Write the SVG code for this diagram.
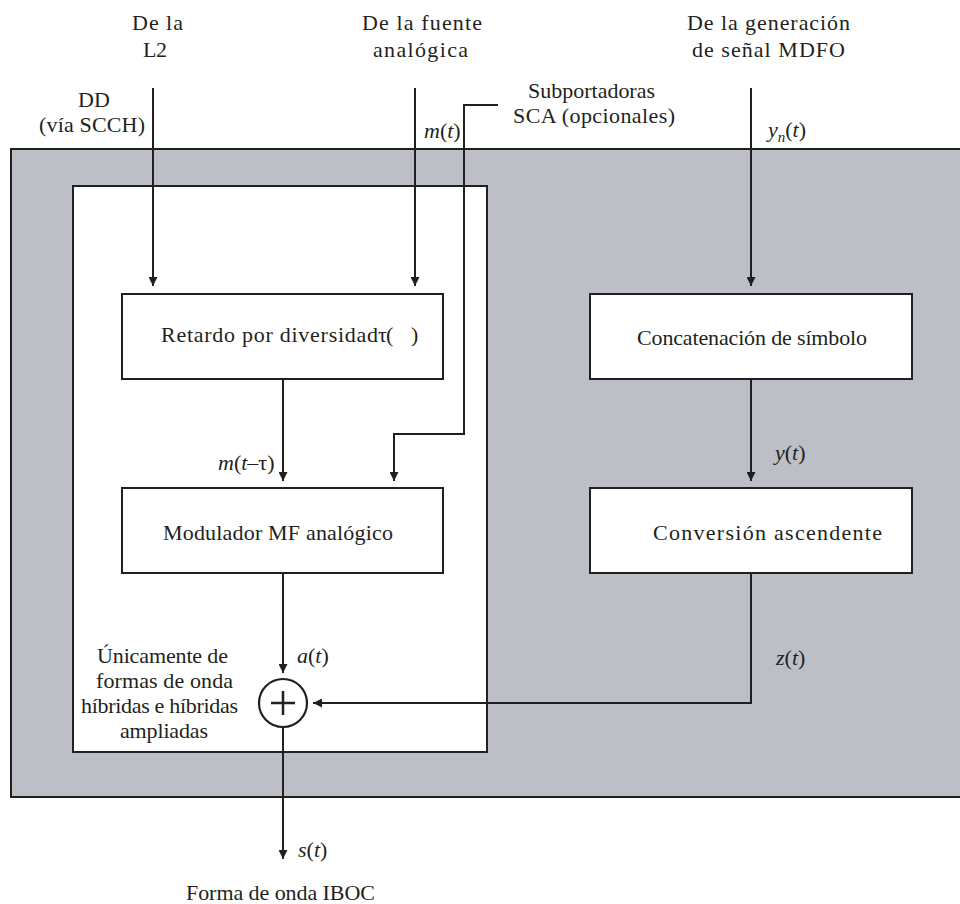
<svg xmlns="http://www.w3.org/2000/svg" width="960" height="904" viewBox="0 0 960 904">
<style>
.i{font-style:italic}
.box{fill:#ffffff;stroke:#231f20;stroke-width:2}
.ln{fill:none;stroke:#231f20;stroke-width:2}
</style>
<defs>
<marker id="ah" viewBox="0 0 10 10" refX="10" refY="5" markerWidth="9" markerHeight="9" markerUnits="userSpaceOnUse" orient="auto">
<path d="M0,0 L10,5 L0,10 z" fill="#231f20"/>
</marker>
</defs>
<rect width="960" height="904" fill="#ffffff"/>
<g id="outer">
<rect x="11" y="149" width="960" height="648" fill="#bdbfc6" stroke="#231f20" stroke-width="2"/>
</g>
<g id="inner">
<rect x="73" y="186" width="414" height="566" class="box"/>
</g>
<g id="connectors">
<line x1="153" y1="88" x2="153" y2="286" class="ln" marker-end="url(#ah)"/>
<line x1="415" y1="88" x2="415" y2="286" class="ln" marker-end="url(#ah)"/>
<line x1="751" y1="88" x2="751" y2="286" class="ln" marker-end="url(#ah)"/>
<path d="M498,105 H464 V434 H394 V481" class="ln" marker-end="url(#ah)"/>
<line x1="283" y1="379" x2="283" y2="481" class="ln" marker-end="url(#ah)"/>
<line x1="751" y1="379" x2="751" y2="481" class="ln" marker-end="url(#ah)"/>
<line x1="283" y1="573" x2="283" y2="673" class="ln" marker-end="url(#ah)"/>
<path d="M751,573 V703 H313" class="ln" marker-end="url(#ah)"/>
<line x1="283" y1="727" x2="283" y2="859" class="ln" marker-end="url(#ah)"/>
</g>
<g id="retardo">
<rect x="122" y="294" width="321" height="85" class="box"/>
<text font-family="Liberation Serif" font-size="22" fill="#231f20" x="161" y="342" textLength="217" lengthAdjust="spacing">Retardo por diversidad</text>
<text font-family="Liberation Serif" font-size="22" fill="#231f20" x="378" y="342">τ</text>
<text font-family="Liberation Serif" font-size="22" fill="#231f20" x="386" y="342">(</text>
<text font-family="Liberation Serif" font-size="22" fill="#231f20" x="411" y="342">)</text>
</g>
<g id="modulador">
<rect x="122" y="488" width="321" height="85" class="box"/>
<text font-family="Liberation Serif" font-size="22" fill="#231f20" x="163" y="540" textLength="230" lengthAdjust="spacing">Modulador MF analógico</text>
</g>
<g id="concatenacion">
<rect x="590" y="294" width="322" height="85" class="box"/>
<text font-family="Liberation Serif" font-size="22" fill="#231f20" x="637" y="345" textLength="230" lengthAdjust="spacing">Concatenación de símbolo</text>
</g>
<g id="conversion">
<rect x="590" y="488" width="322" height="85" class="box"/>
<text font-family="Liberation Serif" font-size="22" fill="#231f20" x="653" y="540" textLength="229" lengthAdjust="spacing">Conversión ascendente</text>
</g>
<g id="sumador">
<circle cx="283" cy="703" r="24" fill="#ffffff" stroke="#231f20" stroke-width="2.2"/>
<path d="M271,703 H295 M283,691 V715" stroke="#231f20" stroke-width="2.5" fill="none"/>
</g>
<g id="labels">
<text font-family="Liberation Serif" font-size="22" fill="#231f20" x="132" y="30" textLength="51" lengthAdjust="spacing">De la</text>
<text font-family="Liberation Serif" font-size="22" fill="#231f20" x="143" y="57" textLength="24" lengthAdjust="spacing">L2</text>
<text font-family="Liberation Serif" font-size="22" fill="#231f20" x="362" y="30" textLength="120" lengthAdjust="spacing">De la fuente</text>
<text font-family="Liberation Serif" font-size="22" fill="#231f20" x="373" y="57" textLength="95" lengthAdjust="spacing">analógica</text>
<text font-family="Liberation Serif" font-size="22" fill="#231f20" x="687" y="30" textLength="163" lengthAdjust="spacing">De la generación</text>
<text font-family="Liberation Serif" font-size="22" fill="#231f20" x="692" y="57" textLength="153" lengthAdjust="spacing">de señal MDFO</text>
<text font-family="Liberation Serif" font-size="22" fill="#231f20" x="78" y="107" textLength="32" lengthAdjust="spacing">DD</text>
<text font-family="Liberation Serif" font-size="22" fill="#231f20" x="39" y="132" textLength="106" lengthAdjust="spacing">(vía SCCH)</text>
<text font-family="Liberation Serif" font-size="22" fill="#231f20" x="424" y="138"><tspan class="i">m</tspan>(<tspan class="i">t</tspan>)</text>
<text font-family="Liberation Serif" font-size="22" fill="#231f20" x="528" y="98" textLength="127" lengthAdjust="spacing">Subportadoras</text>
<text font-family="Liberation Serif" font-size="22" fill="#231f20" x="513" y="123" textLength="162" lengthAdjust="spacing">SCA (opcionales)</text>
<text font-family="Liberation Serif" font-size="22" fill="#231f20" x="768" y="137"><tspan class="i">y</tspan><tspan class="i" font-size="15" dy="5">n</tspan><tspan dy="-5">(</tspan><tspan class="i">t</tspan>)</text>
<text font-family="Liberation Serif" font-size="22" fill="#231f20" x="218" y="470"><tspan class="i">m</tspan>(<tspan class="i">t</tspan>–τ)</text>
<text font-family="Liberation Serif" font-size="22" fill="#231f20" x="775" y="460"><tspan class="i">y</tspan>(<tspan class="i">t</tspan>)</text>
<text font-family="Liberation Serif" font-size="22" fill="#231f20" x="776" y="665"><tspan class="i">z</tspan>(<tspan class="i">t</tspan>)</text>
<text font-family="Liberation Serif" font-size="22" fill="#231f20" x="297" y="663"><tspan class="i">a</tspan>(<tspan class="i">t</tspan>)</text>
<text font-family="Liberation Serif" font-size="22" fill="#231f20" x="298" y="857"><tspan class="i">s</tspan>(<tspan class="i">t</tspan>)</text>
<text font-family="Liberation Serif" font-size="22" fill="#231f20" x="97" y="663" textLength="131" lengthAdjust="spacing">Únicamente de</text>
<text font-family="Liberation Serif" font-size="22" fill="#231f20" x="96" y="688" textLength="137" lengthAdjust="spacing">formas de onda</text>
<text font-family="Liberation Serif" font-size="22" fill="#231f20" x="81" y="713" textLength="157" lengthAdjust="spacing">híbridas e híbridas</text>
<text font-family="Liberation Serif" font-size="22" fill="#231f20" x="120" y="738" textLength="88" lengthAdjust="spacing">ampliadas</text>
<text font-family="Liberation Serif" font-size="22" fill="#231f20" x="186" y="900" textLength="189" lengthAdjust="spacing">Forma de onda IBOC</text>
</g>
</svg>
